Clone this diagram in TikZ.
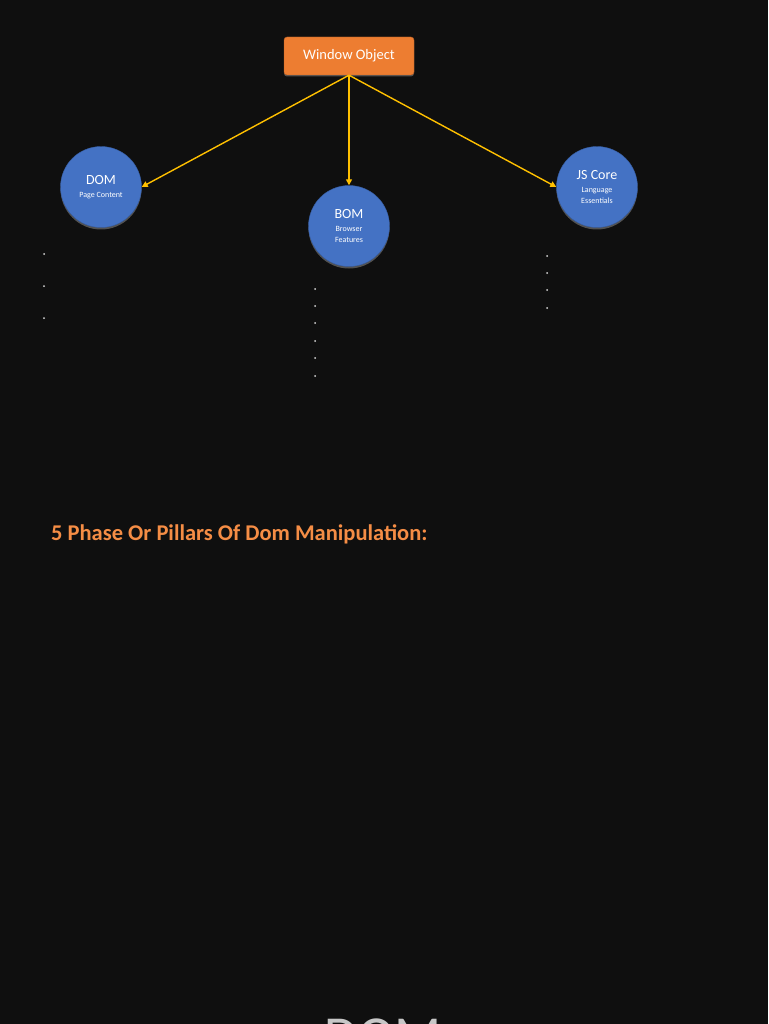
\documentclass[tikz,border=0pt]{standalone}
\usepackage{fontspec}
\setmainfont{Carlito}
\usetikzlibrary{arrows.meta,shadows}
\definecolor{bgc}{HTML}{0F0F0F}
\definecolor{wino}{HTML}{ED7D31}
\definecolor{ballb}{HTML}{4472C4}
\definecolor{linky}{HTML}{FFC000}
\definecolor{titleo}{HTML}{F58D45}
\newcommand\subtxt[1]{{\fontsize{8}{9}\selectfont #1}}
\begin{document}
\begin{tikzpicture}[x=1pt,y=-1pt,
  objbox/.style={fill=wino,draw=wino!75!black,rounded corners=3pt,minimum width=130pt,minimum height=38pt,text=white,font=\fontsize{14.5}{16}\selectfont,drop shadow={opacity=.6,shadow xshift=0pt,shadow yshift=-1.5pt}},
  apiball/.style={circle,fill=ballb,draw=ballb!80!black,minimum size=81pt,inner sep=0pt,text=white,align=center,font=\fontsize{14}{14}\selectfont,drop shadow={opacity=.6,shadow xshift=0pt,shadow yshift=-2pt}},
  link/.style={draw=linky,line width=1.4pt,-{Triangle[length=6pt,width=6pt]}},
  dotmark/.style={fill=white!85!black}]
\fill[bgc](0,0)rectangle(768,1024);
\useasboundingbox(0,0)rectangle(768,1024);\clip(0,0)rectangle(768,1024);
% window and its three parts
\node[objbox](win)at(349,56){Window Object};
\node[apiball](dom)at(101,187){DOM\\[-1pt]\subtxt{Page Content}};
\node[apiball](bom)at(349,226){BOM\\[-1pt]\subtxt{Browser}\\[-3pt]\subtxt{Features}};
\node[apiball](js)at(597,187){JS Core\\[-1pt]\subtxt{Language}\\[-3pt]\subtxt{Essentials}};
\draw[link](win.south)--(dom.east);\draw[link](win.south)--(bom.north);\draw[link](win.south)--(js.west);
% dots under the circles
\foreach \y in {254,286,318}{\fill[dotmark](44,\y)circle(1pt);}
\foreach \y in {289,306,323,341,358,376}{\fill[dotmark](315,\y)circle(1pt);}
\foreach \y in {256,273,290,308}{\fill[dotmark](547,\y)circle(1pt);}
% heading
\node[anchor=base west,inner sep=0pt,text=titleo,font=\fontsize{22.5}{24}\bfseries\selectfont](head)at(51,540){5 Phase Or Pillars Of Dom Manipulation:};
\node[anchor=base west,inner sep=0pt,text=white!78!black,font=\fontsize{55}{55}\selectfont](big)at(324,1054){DOM};
\end{tikzpicture}
\end{document}
